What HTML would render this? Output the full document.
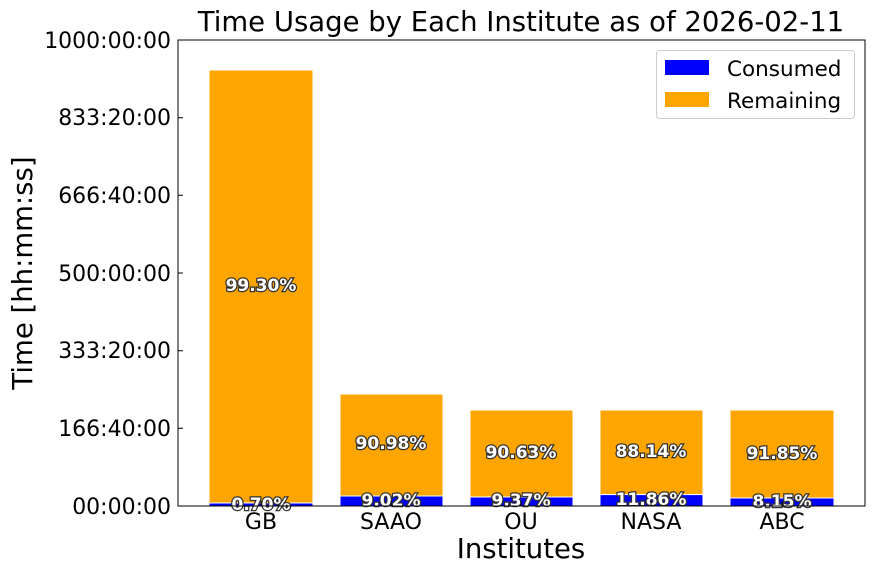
<!DOCTYPE html>
<html><head><style>body{margin:0;background:#fff}svg{display:block}text{font-family:"DejaVu Sans","Liberation Sans",sans-serif}</style></head><body>
<svg width="875" height="574" viewBox="0 0 875 574" xmlns="http://www.w3.org/2000/svg">
<text x="521" y="31" font-size="27.5" text-anchor="middle">Time Usage by Each Institute as of 2026-02-11</text>
<g stroke="#fff" stroke-width="1">
<rect x="209" y="70" width="104" height="433" fill="orange"/><rect x="209" y="503" width="104" height="3" fill="blue"/>
<rect x="340" y="394" width="103" height="102" fill="orange"/><rect x="340" y="496" width="103" height="10" fill="blue"/>
<rect x="470" y="410" width="103" height="87" fill="orange"/><rect x="470" y="497" width="103" height="9" fill="blue"/>
<rect x="600" y="410" width="103" height="84.6" fill="orange"/><rect x="600" y="494.6" width="103" height="11.4" fill="blue"/>
<rect x="730" y="410" width="104" height="88" fill="orange"/><rect x="730" y="498" width="104" height="8" fill="blue"/>
</g>
<g font-size="17" font-weight="bold" fill="#fff" stroke="#333" stroke-width="2.5" paint-order="stroke" text-anchor="middle">
<text x="261" y="291">99.30%</text><text x="261" y="510">0.70%</text>
<text x="391" y="449">90.98%</text><text x="391" y="506">9.02%</text>
<text x="521" y="458">90.63%</text><text x="521" y="506">9.37%</text>
<text x="651" y="457">88.14%</text><text x="651" y="505">11.86%</text>
<text x="782" y="459">91.85%</text><text x="782" y="507">8.15%</text>
</g>
<rect x="178" y="40" width="687" height="466" fill="none" stroke="#000" stroke-width="1"/>
<g stroke="#000" stroke-width="1">
<path d="M178 506h5M178 428.3h5M178 350.7h5M178 273h5M178 195.3h5M178 117.7h5M178 40h5"/>
<path d="M261 506v-5M391 506v-5M521 506v-5M651 506v-5M782 506v-5"/>
</g>
<g font-size="22" text-anchor="end">
<text x="171" y="514">00:00:00</text><text x="171" y="436">166:40:00</text><text x="171" y="358">333:20:00</text><text x="171" y="281">500:00:00</text><text x="171" y="203">666:40:00</text><text x="171" y="125">833:20:00</text><text x="171" y="48">1000:00:00</text>
</g>
<g font-size="22" text-anchor="middle">
<text x="261" y="529">GB</text><text x="391" y="529">SAAO</text><text x="521" y="529">OU</text><text x="651" y="529">NASA</text><text x="782" y="529">ABC</text>
</g>
<text x="521" y="558" font-size="27.5" text-anchor="middle">Institutes</text>
<text transform="translate(32,273) rotate(-90)" font-size="27.5" text-anchor="middle">Time [hh:mm:ss]</text>
<rect x="656.5" y="50.5" width="198" height="68" rx="3" fill="#fff" stroke="#ccc"/>
<rect x="665" y="60" width="44" height="15" fill="blue"/>
<rect x="665" y="92" width="44" height="15" fill="orange"/>
<text x="727" y="76" font-size="21.5">Consumed</text>
<text x="727" y="108" font-size="21.5">Remaining</text>
</svg>
</body></html>
